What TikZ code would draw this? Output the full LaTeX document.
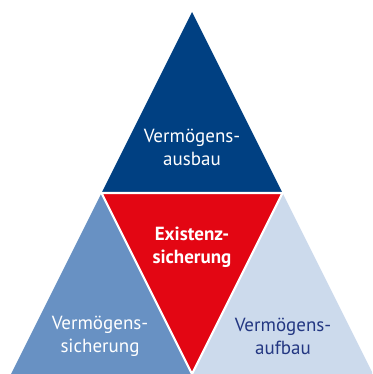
\documentclass[tikz,border=0pt]{standalone}
\usepackage{fontspec}
\setmainfont{PT Sans}
\usetikzlibrary{calc}
\definecolor{dunkelblau}{RGB}{0,64,130}
\definecolor{rot}{RGB}{227,6,19}
\definecolor{mittelblau}{RGB}{104,145,195}
\definecolor{hellblau}{RGB}{204,218,236}
\definecolor{schrift}{RGB}{35,55,130}
\tikzset{
  beschriftung/.style={align=center, font=\fontsize{19}{23}\selectfont, inner sep=0pt},
  trenner/.style={white, line width=2.2pt}
}
\begin{document}
\begin{tikzpicture}[x=1pt, y=1pt]
    \useasboundingbox (0,0) rectangle (372,374);
    \clip (0,0) rectangle (372,374);
    \def\H{362}
    \def\HW{181}
    \def\MX{192}
    % Ecken des grossen Dreiecks
    \coordinate (Spitze) at (\MX,\H);
    \coordinate (UL) at (\MX-\HW,0);
    \coordinate (UR) at (\MX+\HW,0);
    % Seitenmitten
    \coordinate (ML) at ($(Spitze)!0.5!(UL)$);
    \coordinate (MR) at ($(Spitze)!0.5!(UR)$);
    \coordinate (MU) at (\MX,0);
    \fill[dunkelblau] (Spitze) -- (ML) -- (MR) -- cycle;
    \fill[rot] (ML) -- (MR) -- (MU) -- cycle;
    \fill[mittelblau] (ML) -- (UL) -- (MU) -- cycle;
    \fill[hellblau] (MR) -- (MU) -- (UR) -- cycle;
    \draw[trenner] (ML) -- (MR) -- (MU) -- cycle;
    \node[beschriftung, white] (ausbau) at (\MX,227) {Vermögens-\\ausbau};
    \node[beschriftung, white, font=\fontsize{19}{23}\selectfont\bfseries] (existenz) at (\MX,127) {Existenz-\\sicherung};
    \node[beschriftung, white] (sicherung) at (100,38) {Vermögens-\\sicherung};
    \node[beschriftung, schrift] (aufbau) at (283,38) {Vermögens-\\aufbau};
\end{tikzpicture}
\end{document}
